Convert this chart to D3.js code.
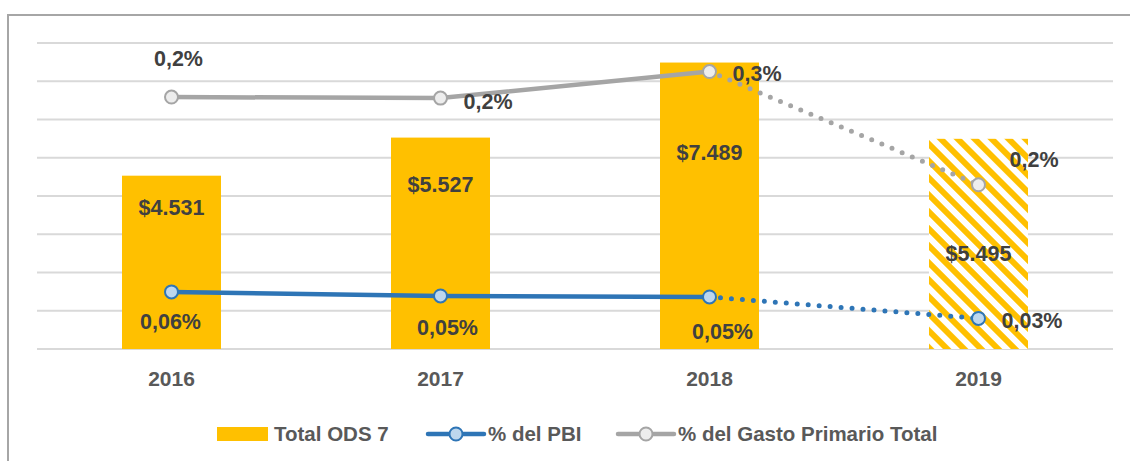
<!DOCTYPE html>
<html>
<head>
<meta charset="utf-8">
<script src="https://cdn.jsdelivr.net/npm/d3@7"></script>
<style>
  body { margin: 0; background: #fff; }
  text { font-family: "Liberation Sans", Arial, sans-serif; font-weight: bold; }
</style>
</head>
<body>
<svg id="chart" width="1130" height="461"></svg>
<script>
// data
var years = ["2016", "2017", "2018", "2019"];
var totalOds = [4531, 5527, 7489, 5495];
var pctPbi = [0.056, 0.052, 0.051, 0.030];
var pctGasto = [0.247, 0.246, 0.272, 0.161];
var projected = [false, false, false, true];

var width = 1130, height = 461;
var plot = {left: 37, right: 1113, top: 43, bottom: 349};

var svg = d3.select("#chart");

// outer frame (right/bottom edges fall outside the picture)
svg.append("rect")
    .attr("x", 8).attr("y", 15)
    .attr("width", 1140).attr("height", 470)
    .attr("fill", "none")
    .attr("stroke", "#a6a6a6")
    .attr("stroke-width", 2);

// hatch for the 2019 estimate
var defs = svg.append("defs");
var pat = defs.append("pattern")
    .attr("id", "hatch")
    .attr("patternUnits", "userSpaceOnUse")
    .attr("width", 12).attr("height", 12)
    .attr("patternTransform", "rotate(-45)");
pat.append("rect").attr("width", 12).attr("height", 12).attr("fill", "#fff");
pat.append("rect").attr("width", 6).attr("height", 12).attr("fill", "#FFC000");

var x = d3.scaleBand()
    .domain(years)
    .range([plot.left, plot.right])
    .paddingInner(0.632)
    .paddingOuter(0.316);

var y = d3.scaleLinear().domain([0, 8000]).range([plot.bottom, plot.top]);
var y2 = d3.scaleLinear().domain([0, 0.3]).range([plot.bottom, plot.top]);

var cx = function(i) { return x(years[i]) + x.bandwidth() / 2; };

// gridlines
svg.append("g")
    .selectAll("line")
    .data(y.ticks(8))
    .enter().append("line")
    .attr("x1", plot.left).attr("x2", plot.right)
    .attr("y1", function(d) { return y(d); })
    .attr("y2", function(d) { return y(d); })
    .attr("stroke", "#d9d9d9")
    .attr("stroke-width", 2);

// bars
svg.append("g")
    .selectAll("rect")
    .data(totalOds)
    .enter().append("rect")
    .attr("x", function(d, i) { return x(years[i]); })
    .attr("width", x.bandwidth())
    .attr("y", function(d) { return y(d); })
    .attr("height", function(d) { return y(0) - y(d); })
    .attr("fill", function(d, i) { return projected[i] ? "url(#hatch)" : "#FFC000"; });

// x axis labels
var xAxis = d3.axisBottom(x).tickSize(0).tickPadding(22);
var gx = svg.append("g")
    .attr("transform", "translate(0," + plot.bottom + ")")
    .call(xAxis);
gx.select(".domain").remove();
gx.selectAll("text")
    .attr("font-size", 21)
    .attr("font-family", "Liberation Sans, Arial, sans-serif")
    .attr("font-weight", "bold")
    .attr("fill", "#595959");

// bar value labels
var fmtMoney = function(v) { return "$" + d3.format(",")(v).replace(/,/g, "."); };
var barLabelDy = [32, 47, 90, 115];
svg.append("g")
    .selectAll("text")
    .data(totalOds)
    .enter().append("text")
    .attr("x", function(d, i) { return cx(i); })
    .attr("y", function(d, i) { return y(d) + barLabelDy[i]; })
    .attr("dy", "0.35em")
    .attr("text-anchor", "middle")
    .attr("font-size", 21.5)
    .attr("fill", "#404040")
    .text(fmtMoney);

// lines: solid for actual years, dotted towards the estimate
function drawSeries(vals, color, markerFill) {
  var pts = vals.map(function(v, i) { return [cx(i), y2(v)]; });
  var line = d3.line();
  var solid = pts.filter(function(p, i) { return !projected[i]; });
  svg.append("path")
      .attr("d", line(solid))
      .attr("fill", "none")
      .attr("stroke", color)
      .attr("stroke-width", 4.5);
  var k = projected.indexOf(true);
  svg.append("path")
      .attr("d", line([pts[k - 1], pts[k]]))
      .attr("fill", "none")
      .attr("stroke", color)
      .attr("stroke-width", 5)
      .attr("stroke-linecap", "round")
      .attr("stroke-dasharray", "0 11");
  svg.append("g")
      .selectAll("circle")
      .data(pts)
      .enter().append("circle")
      .attr("cx", function(d) { return d[0]; })
      .attr("cy", function(d) { return d[1]; })
      .attr("r", 6.5)
      .attr("fill", markerFill)
      .attr("stroke", color)
      .attr("stroke-width", 2);
  return pts;
}

var pbiPts = drawSeries(pctPbi, "#2E75B6", "#BDD7EE");
var gastoPts = drawSeries(pctGasto, "#A5A5A5", "#EDEDED");

var fmtPct = function(dec) {
  return function(v) { return d3.format("." + dec + "f")(v).replace(".", ",") + "%"; };
};

// label offsets [dx, dy, anchor]
var gastoLabelPos = [[7, -39, "middle"], [23, 3, "start"], [23, 2, "start"], [31, -25, "start"]];
var pbiLabelPos = [[-1, 30, "middle"], [7, 32, "middle"], [13, 34, "middle"], [23, 2, "start"]];

function drawLabels(vals, pts, pos, fmt) {
  svg.append("g")
      .selectAll("text")
      .data(vals)
      .enter().append("text")
      .attr("x", function(d, i) { return pts[i][0] + pos[i][0]; })
      .attr("y", function(d, i) { return pts[i][1] + pos[i][1]; })
      .attr("dy", "0.35em")
      .attr("text-anchor", function(d, i) { return pos[i][2]; })
      .attr("font-size", 21.5)
      .attr("fill", "#404040")
      .text(fmt);
}
drawLabels(pctGasto, gastoPts, gastoLabelPos, fmtPct(1));
drawLabels(pctPbi, pbiPts, pbiLabelPos, fmtPct(2));

// legend
var legend = svg.append("g").attr("transform", "translate(0,434)");
var legendItems = ["Total ODS 7", "% del PBI", "% del Gasto Primario Total"];
var legendX = [217, 428, 618];

legend.append("rect")
    .attr("x", legendX[0]).attr("y", -7)
    .attr("width", 51).attr("height", 14)
    .attr("fill", "#FFC000");

[["#2E75B6", "#BDD7EE"], ["#A5A5A5", "#EDEDED"]].forEach(function(c, j) {
  var lx = legendX[j + 1];
  legend.append("line")
      .attr("x1", lx).attr("x2", lx + 56)
      .attr("y1", 0).attr("y2", 0)
      .attr("stroke", c[0])
      .attr("stroke-width", 4.5)
      .attr("stroke-linecap", "round");
  legend.append("circle")
      .attr("cx", lx + 28).attr("cy", 0)
      .attr("r", 6.5)
      .attr("fill", c[1])
      .attr("stroke", c[0])
      .attr("stroke-width", 2);
});

legend.selectAll("text.item")
    .data(legendItems)
    .enter().append("text")
    .attr("class", "item")
    .attr("x", function(d, i) { return legendX[i] + (i === 0 ? 57 : 60); })
    .attr("y", 0)
    .attr("dy", "0.35em")
    .attr("font-size", 20.5)
    .attr("fill", "#595959")
    .text(function(d) { return d; });
</script>
</body>
</html>
